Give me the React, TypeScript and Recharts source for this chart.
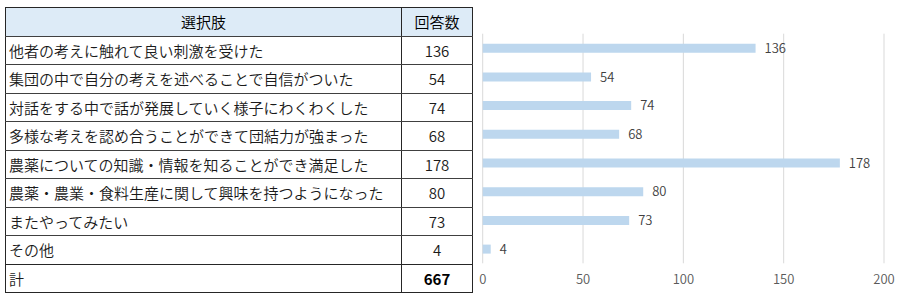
import React from 'react';
import { BarChart, Bar, XAxis, YAxis, CartesianGrid, LabelList } from 'recharts';

const choices = [
  '他者の考えに触れて良い刺激を受けた',
  '集団の中で自分の考えを述べることで自信がついた',
  '対話をする中で話が発展していく様子にわくわくした',
  '多様な考えを認め合うことができて団結力が強まった',
  '農薬についての知識・情報を知ることができ満足した',
  '農薬・農業・食料生産に関して興味を持つようになった',
  'またやってみたい',
  'その他',
];
const counts = [136, 54, 74, 68, 178, 80, 73, 4];
const totalLabel = '計';
const totalCount = 667;
const headers = ['選択肢', '回答数'];
const xTicks = [0, 50, 100, 150, 200];

const chartData = choices.map((name, i) => ({ name, value: counts[i] }));

const font = '"Noto Sans CJK JP", "Noto Sans", sans-serif';
const rowH = 28.5;

const cellBase: React.CSSProperties = {
  height: rowH,
  padding: '0 3px',
  boxSizing: 'border-box',
  borderBottom: '1px solid #404040',
  fontSize: 15,
  fontWeight: 350,
  color: '#1a1a1a',
  whiteSpace: 'nowrap',
};

const App: React.FC = () => {
  return (
    <div style={{ position: 'absolute', left: 0, top: 0, width: 900, height: 300, background: '#fff', fontFamily: font }}>
      <table
        style={{
          position: 'absolute',
          left: 5,
          top: 7,
          width: 467,
          borderCollapse: 'collapse',
          border: '1.5px solid #262626',
          tableLayout: 'fixed',
        }}
      >
        <colgroup>
          <col style={{ width: 396 }} />
          <col style={{ width: 71 }} />
        </colgroup>
        <tbody>
          <tr style={{ background: '#DDEBF7' }}>
            <td style={{ ...cellBase, textAlign: 'center', borderRight: '1px solid #262626', color: '#000' }}>{headers[0]}</td>
            <td style={{ ...cellBase, textAlign: 'center', color: '#000' }}>{headers[1]}</td>
          </tr>
          {choices.map((c, i) => (
            <tr key={c}>
              <td
                style={{
                  ...cellBase,
                  borderRight: '1px solid #262626',
                  borderBottom: i === choices.length - 1 ? '1.5px solid #262626' : cellBase.borderBottom,
                }}
              >
                {c}
              </td>
              <td
                style={{
                  ...cellBase,
                  textAlign: 'center',
                  borderBottom: i === choices.length - 1 ? '1.5px solid #262626' : cellBase.borderBottom,
                }}
              >
                {counts[i]}
              </td>
            </tr>
          ))}
          <tr>
            <td style={{ ...cellBase, borderRight: '1px solid #262626', borderBottom: 'none' }}>{totalLabel}</td>
            <td style={{ ...cellBase, textAlign: 'center', fontWeight: 'bold', color: '#000', borderBottom: 'none' }}>
              {totalCount}
            </td>
          </tr>
        </tbody>
      </table>

      <div style={{ position: 'absolute', left: 470, top: 0 }}>
        <BarChart
          width={430}
          height={300}
          data={chartData}
          layout="vertical"
          margin={{ top: 33.7, right: 16, left: 12.7, bottom: 16.7 }}
          barCategoryGap={0}
        >
          <CartesianGrid horizontal={false} stroke="#D9D9D9" />
          <XAxis
            type="number"
            domain={[0, 200]}
            ticks={xTicks}
            height={20}
            axisLine={false}
            tickLine={false}
            tickMargin={5}
            tick={{ fill: '#595959', fontSize: 13, fontFamily: font, fontWeight: 350 }}
          />
          <YAxis type="category" dataKey="name" hide width={0} />
          <Bar dataKey="value" fill="#BDD7EE" barSize={9} isAnimationActive={false}>
            <LabelList
              dataKey="value"
              position="right"
              offset={9}
              fill="#404040"
              fontSize={13}
              fontWeight={350}
              fontFamily={font}
            />
          </Bar>
        </BarChart>
      </div>
    </div>
  );
};

export default App;
